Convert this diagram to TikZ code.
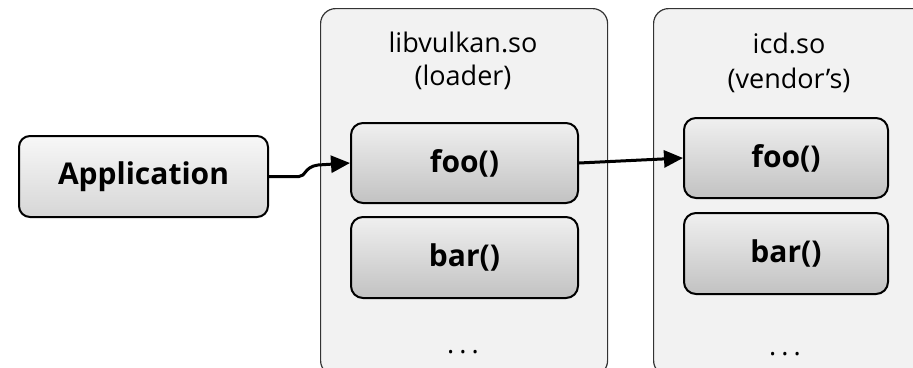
\documentclass[tikz,border=0pt]{standalone}
\usepackage{fontspec}
\setmainfont{Open Sans}
\usetikzlibrary{arrows.meta}
\begin{document}
\begin{tikzpicture}[x=1pt,y=-1pt,
  container/.style={draw=black!80, line width=1.2pt, fill=black!5, rounded corners=15pt,
    anchor=north west, inner sep=0pt, minimum width=287pt, minimum height=367pt},
  funcbox/.style={draw=black, line width=2pt, rounded corners=12pt, top color=black!6,
    bottom color=black!24, anchor=north west, inner sep=0pt,
    font=\fontsize{30}{36}\selectfont\bfseries},
  title/.style={anchor=base, inner sep=0pt, font=\fontsize{27}{32}\selectfont},
  conn/.style={line width=3pt, -{Triangle[length=19pt,width=17pt]}}
]
\useasboundingbox (0,0) rectangle (913,367);
\clip (0,0) rectangle (913,367);

% containers
\node[container] (lib) at (320,8) {};
\node[container] (icd) at (653,8) {};

% titles
\node[title] (libname) at (463,52) {libvulkan.so};
\node[title] (libsub) at (463,85) {(loader)};
\node[title] (icdname) at (789,53) {icd.so};
\node[title] (icdsub) at (789,88) {(vendor’s)};

% application
\node[funcbox, rounded corners=11pt, top color=black!3, bottom color=black!16,
  minimum width=249pt, minimum height=81pt] (app) at (18,135) {Application};

% functions
\node[funcbox, minimum width=227pt, minimum height=80pt] (foo1) at (350,122) {foo()};
\node[funcbox, minimum width=227pt, minimum height=81pt] (bar1) at (350,216) {bar()};
\node[funcbox, minimum width=204pt, minimum height=80pt] (foo2) at (683,117) {foo()};
\node[funcbox, minimum width=204pt, minimum height=81pt] (bar2) at (683,212) {bar()};

% ellipses
\node[title] (dots1) at (463,353) {.\hspace{5pt}.\hspace{5pt}.};
\node[title] (dots2) at (785,355) {.\hspace{5pt}.\hspace{5pt}.};

% connectors
\draw[conn] (app.east) -- (299,176.5) .. controls (306,176.5) and (304,167) .. (318,165) -- (foo1.west);
\draw[conn] (foo1.east) -- (foo2.west);
\end{tikzpicture}
\end{document}
